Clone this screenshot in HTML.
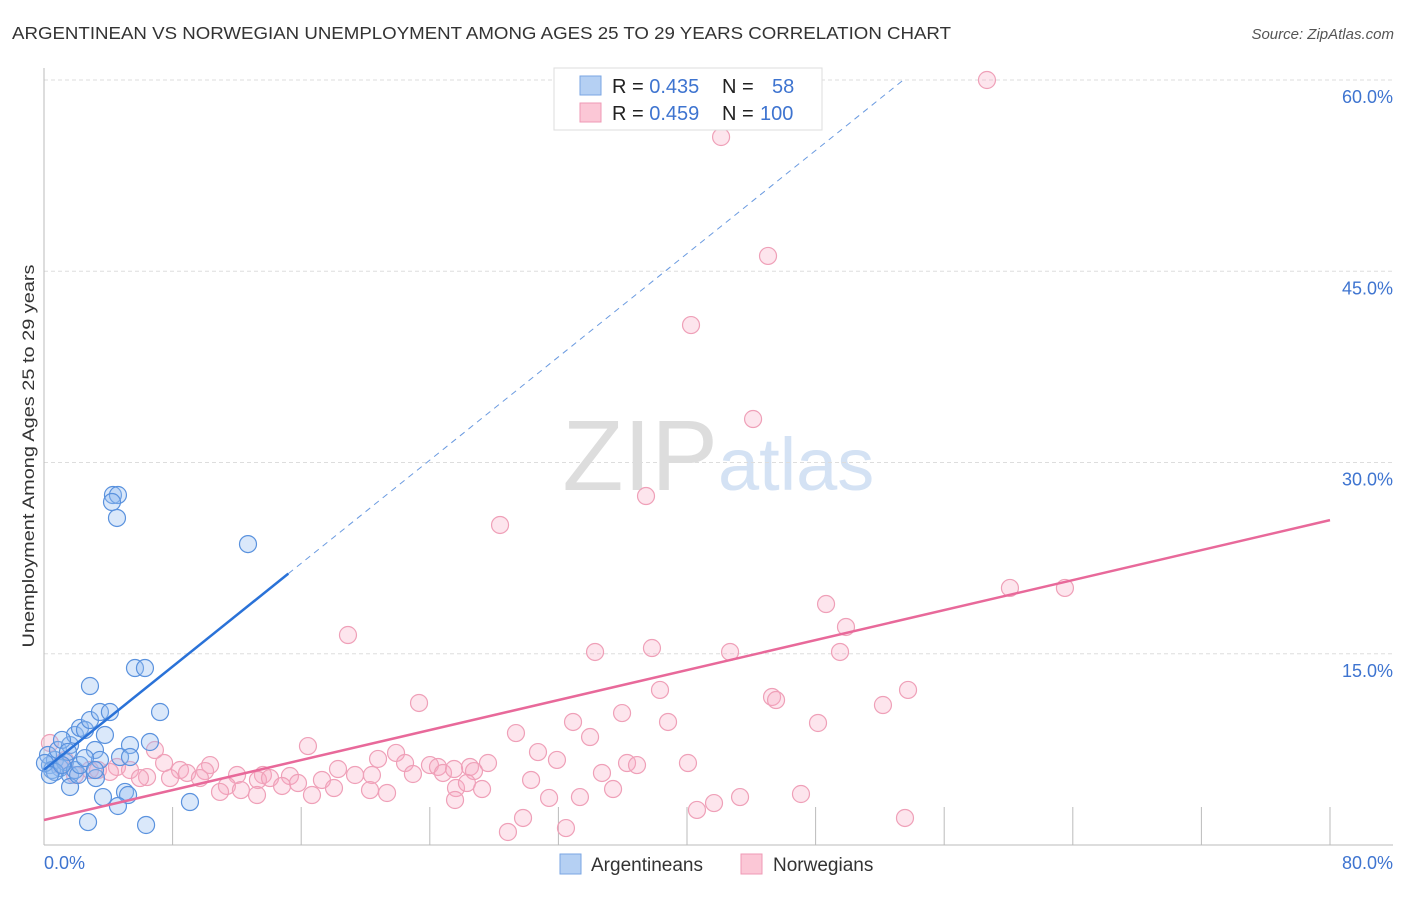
<!DOCTYPE html>
<html><head><meta charset="utf-8"><style>
body{margin:0;background:#fff;font-family:"Liberation Sans",sans-serif}
svg text{font-family:"Liberation Sans",sans-serif}
</style></head><body>
<svg id="chart" width="1406" height="892">
<text x="12" y="39" font-size="17.5" fill="#333" textLength="939" lengthAdjust="spacingAndGlyphs">ARGENTINEAN VS NORWEGIAN UNEMPLOYMENT AMONG AGES 25 TO 29 YEARS CORRELATION CHART</text>
<text x="1394" y="39" font-size="15" fill="#555" font-style="italic" text-anchor="end">Source: ZipAtlas.com</text>
<text x="718" y="490" font-size="100" fill="#ddd" font-family="Liberation Serif" text-anchor="end">ZIP</text>
<text x="718" y="490" font-size="74" fill="#d4e2f4">atlas</text>
<g id="grid"></g><g id="axes"></g><g id="pink"></g><g id="blue"></g><g id="lines"></g>
<text transform="translate(34,456) rotate(-90)" font-size="17" fill="#333" text-anchor="middle" textLength="383" lengthAdjust="spacingAndGlyphs">Unemployment Among Ages 25 to 29 years</text>
<g>
<rect x="554" y="68" width="268" height="62" fill="#fff" stroke="#ddd"/>
<rect x="580" y="76" width="21" height="19" fill="#b5d0f3" stroke="#7aa6e3"/>
<rect x="580" y="103" width="21" height="19" fill="#fbc7d6" stroke="#ef9ab5"/>
<text x="612" y="93" font-size="20" fill="#222">R = <tspan fill="#3e74d0">0.435</tspan><tspan x="722">N =</tspan><tspan x="772" fill="#3e74d0">58</tspan></text>
<text x="612" y="120" font-size="20" fill="#222">R = <tspan fill="#3e74d0">0.459</tspan><tspan x="722">N =</tspan><tspan x="760" fill="#3e74d0">100</tspan></text>
</g>
<g>
<rect x="560" y="854" width="21" height="20" fill="#b5d0f3" stroke="#7aa6e3"/>
<text x="591" y="871" font-size="19" fill="#333">Argentineans</text>
<rect x="741" y="854" width="21" height="20" fill="#fbc7d6" stroke="#ef9ab5"/>
<text x="773" y="871" font-size="19" fill="#333">Norwegians</text>
</g>
</svg>
<script>
const yTicks=[15,30,45,60];
const xTickLabels=["0.0%","80.0%"];
const blueX=[0.37,0.68,1.0,0.25,0.5,0.87,1.31,1.62,1.93,2.24,2.55,2.86,1.62,1.93,1.12,3.17,3.48,2.86,4.29,4.6,4.23,4.54,12.69,5.66,6.28,7.22,4.1,3.79,5.35,6.59,4.73,5.35,5.04,5.23,4.6,3.23,3.67,1.62,2.74,6.35,9.08,2.12,3.48,0.68,1.49,2.24,2.55,0.06,0.37,1.12,3.17];
const blueY=[6.27,6.67,6.04,7.06,5.88,7.45,6.51,7.84,8.63,9.18,9.02,9.8,5.49,5.88,8.24,7.45,10.43,12.47,27.45,27.45,26.9,25.65,23.6,13.88,13.88,10.43,10.43,8.63,7.84,8.08,6.9,6.9,4.16,3.92,3.06,5.25,3.76,4.55,1.8,1.57,3.37,5.49,6.67,5.73,7.3,6.27,6.82,6.43,5.49,6.27,5.88];
const pinkX=[58.66,42.12,45.04,40.25,44.11,37.45,28.37,60.09,63.51,48.65,49.89,49.52,18.91,34.28,37.82,42.68,38.32,53.75,45.29,45.54,52.19,23.33,35.96,32.91,38.82,48.15,29.36,33.97,16.42,30.73,31.91,20.78,21.9,24.01,26.5,27.62,24.51,22.46,10.33,7.47,8.46,10.02,4.54,2.86,5.35,6.41,8.9,12.01,13.62,15.3,18.29,19.35,20.4,22.95,24.82,25.51,26.75,36.27,36.89,40.06,9.7,7.84,11.38,12.25,13.31,14.06,14.81,15.8,17.29,18.04,20.28,25.63,26.31,27.25,30.3,34.71,10.95,13.25,16.67,21.34,25.57,31.42,33.34,35.4,43.3,47.09,41.68,40.62,29.8,28.86,32.47,53.56,0.37,3.36,4.1,5.97,1.93,1.0,1.31,6.9];
const pinkY=[60.0,55.53,46.2,40.78,33.41,27.37,25.1,20.16,20.16,18.9,17.1,15.14,16.47,15.14,15.45,15.14,12.16,12.16,11.61,11.37,10.98,11.14,10.35,9.65,9.65,9.57,8.78,8.47,7.76,7.29,6.67,6.75,7.22,6.27,6.12,6.43,6.12,6.43,6.27,6.43,5.88,5.8,6.12,5.88,5.88,5.33,5.65,5.49,5.49,5.41,5.96,5.49,5.49,5.57,5.65,5.96,5.8,6.43,6.27,6.43,5.25,5.25,4.63,4.31,5.1,5.25,4.63,4.86,5.1,4.47,4.31,4.47,4.86,4.39,5.1,5.65,4.16,3.92,3.92,4.08,3.53,3.69,3.76,4.39,3.76,4.0,3.29,2.75,2.12,1.02,1.33,2.12,8.0,5.88,5.73,5.25,5.49,6.27,6.67,7.45];
const blueTrend=[5.9,1.012];   // intercept, slope
const pinkTrend=[1.96,0.294];
const NS='http://www.w3.org/2000/svg';
const X0=44,X1=1330,Y0=845,Y1=80;
const sx=v=>X0+v/80*(X1-X0);
const sy=v=>Y0-v/60*(Y0-Y1);
function mk(tag,attrs,parent){const e=document.createElementNS(NS,tag);for(const k in attrs)e.setAttribute(k,attrs[k]);document.getElementById(parent).appendChild(e);return e;}
yTicks.forEach(t=>{
 const l=mk('line',{x1:X0,x2:1393,y1:sy(t),y2:sy(t),stroke:'#ddd','stroke-dasharray':'4 3'},'grid');
 
 
 const tx=mk('text',{x:1393,y:sy(t)+23,'font-size':18,fill:'#3e74d0','text-anchor':'end'},'grid');
 tx.textContent=t.toFixed(1)+'%';
 
 
});
let a=mk('line',{x1:X0,x2:X0,y1:68,y2:Y0,stroke:'#bbb'},'axes');


a=mk('line',{x1:X0,x2:1393,y1:Y0,y2:Y0,stroke:'#bbb'},'axes');


for(let i=1;i<=10;i++){const t=mk('line',{x1:sx(i*8),x2:sx(i*8),y1:807,y2:Y0,stroke:'#bbb'},'axes');
 
 }
[[0,xTickLabels[0],'start',X0],[80,xTickLabels[1],'end',1393]].forEach(d=>{
 const t=mk('text',{x:d[3],y:869,'font-size':18,fill:'#3e74d0','text-anchor':d[2]},'axes');t.textContent=d[1];
 
 });
pinkX.forEach((v,i)=>{const c=mk('circle',{cx:sx(v),cy:sy(pinkY[i]),r:8.5,fill:'rgba(248,170,195,0.3)',stroke:'#efa0b8','stroke-width':1.2},'pink');
 
 });
blueX.forEach((v,i)=>{const c=mk('circle',{cx:sx(v),cy:sy(blueY[i]),r:8.5,fill:'rgba(150,190,240,0.35)',stroke:'#5a92de','stroke-width':1.2},'blue');
 
 });
const bt=x=>blueTrend[0]+blueTrend[1]*x, pt=x=>pinkTrend[0]+pinkTrend[1]*x;
let L=mk('line',{x1:sx(0),y1:sy(bt(0)),x2:sx(15.2),y2:sy(bt(15.2)),stroke:'#2a72d8','stroke-width':2.5},'lines');


const xe=(60-blueTrend[0])/blueTrend[1];
L=mk('line',{x1:sx(15.2),y1:sy(bt(15.2)),x2:sx(xe),y2:sy(60),stroke:'#6a9ae0','stroke-width':1,'stroke-dasharray':'6 5'},'lines');


L=mk('line',{x1:sx(0),y1:sy(pt(0)),x2:sx(80),y2:sy(pt(80)),stroke:'#e8699a','stroke-width':2.5},'lines');


</script>
</body></html>
